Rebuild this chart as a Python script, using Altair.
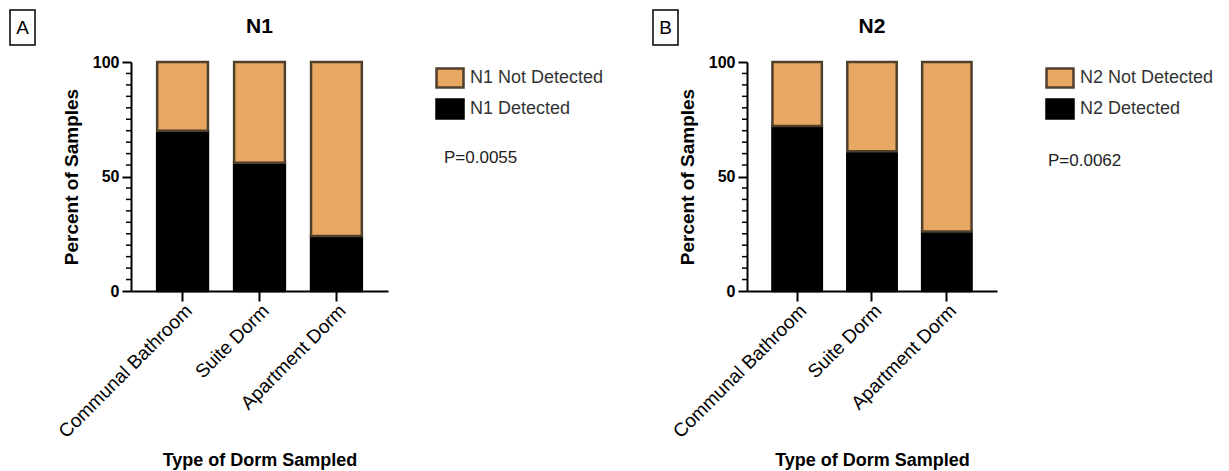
import altair as alt
import pandas as pd

# ---- data ----
categories = ["Communal Bathroom", "Suite Dorm", "Apartment Dorm"]
n1_detected = [70, 56, 24]          # % of samples with N1 detected
n2_detected = [72, 61, 26]          # % of samples with N2 detected
n1_statuses = ["N1 Not Detected", "N1 Detected"]
n2_statuses = ["N2 Not Detected", "N2 Detected"]
p_values = ["P=0.0055", "P=0.0062"]
panel_letters = ["A", "B"]
panel_titles = ["N1", "N2"]
y_major_ticks = [0, 50, 100]
y_minor_ticks = [5, 10, 15, 20, 25, 30, 35, 40, 45, 55, 60, 65, 70, 75, 80, 85, 90, 95]

FILL = ["#E8A762", "#000000"]
STROKE = ["#4F3F2D", "#000000"]
FONT = "Liberation Sans"
H = 229


def panel(title, letter, detected, statuses, pval, width, box_x, legend_x, p_x, p_y):
    rows = []
    for c, d in zip(categories, detected):
        rows.append({"cat": c, "status": statuses[1], "pct": d, "ord": 0})
        rows.append({"cat": c, "status": statuses[0], "pct": 100 - d, "ord": 1})
    df = pd.DataFrame(rows)

    legend = alt.Legend(
        title=None, orient="none", legendX=legend_x, legendY=1, padding=0,
        symbolType="M-1,-0.7L1,-0.7L1,0.7L-1,0.7Z", symbolSize=729,
        symbolStrokeWidth=2.5, labelFont=FONT, labelFontSize=18,
        labelColor="#333333", labelOffset=5, rowPadding=1,
    )
    yscale = alt.Scale(domain=[0, 100], nice=False)
    bars = alt.Chart(df).mark_bar(strokeWidth=2.5).encode(
        x=alt.X(
            "cat:N", sort=categories, title="Type of Dorm Sampled",
            scale=alt.Scale(paddingInner=0.34, paddingOuter=0.34),
            axis=alt.Axis(
                labelAngle=-45, labelFontSize=19, labelPadding=0, labelColor="black",
                labelFont=FONT, tickSize=10, tickWidth=2, tickColor="black",
                domainWidth=2, domainColor="black", titleFontSize=18,
                titleFontWeight="bold", titleFont=FONT, titleColor="black",
                titleY=174, titleBaseline="alphabetic", grid=False,
            ),
        ),
        y=alt.Y(
            "pct:Q", stack="zero", title="Percent of Samples", scale=yscale,
            axis=alt.Axis(
                values=y_major_ticks, grid=False, tickSize=9, tickWidth=2,
                tickColor="black", domainWidth=2, domainColor="black",
                labelFontSize=16, labelFontWeight="bold", labelColor="black",
                labelFont=FONT, labelPadding=3, titleFontSize=19,
                titleFontWeight="bold", titleFont=FONT, titleColor="black",
                titlePadding=11,
            ),
        ),
        fill=alt.Fill("status:N", scale=alt.Scale(domain=statuses, range=FILL), legend=legend),
        stroke=alt.Stroke("status:N", scale=alt.Scale(domain=statuses, range=STROKE), legend=legend),
        order=alt.Order("ord:Q"),
    )

    # minor ticks of the y axis, placed through the shared y scale
    minor = alt.Chart(pd.DataFrame({"v": y_minor_ticks})).mark_rule(
        color="black", strokeWidth=1.5
    ).encode(y=alt.Y("v:Q", scale=yscale), x=alt.value(-5), x2=alt.value(0))

    one = pd.DataFrame({"letter": [letter], "title": [title], "p": [pval]})
    box = alt.Chart(one).mark_rect(fill="transparent", stroke="black", strokeWidth=1.5).encode(
        x=alt.value(box_x), x2=alt.value(box_x + 25), y=alt.value(-52), y2=alt.value(-17)
    )
    letter_txt = alt.Chart(one).mark_text(
        font=FONT, fontSize=19, baseline="middle", align="center", color="black"
    ).encode(x=alt.value(box_x + 12.5), y=alt.value(-34), text="letter:N")
    title_txt = alt.Chart(one).mark_text(
        font=FONT, fontSize=21, fontWeight="bold", baseline="alphabetic", align="center", color="black"
    ).encode(x=alt.value(width / 2), y=alt.value(-29), text="title:N")
    p_txt = alt.Chart(one).mark_text(
        font=FONT, fontSize=17, baseline="alphabetic", align="left", color="#222222"
    ).encode(x=alt.value(p_x), y=alt.value(p_y), text="p:N")

    return alt.layer(bars, minor, box, letter_txt, title_txt, p_txt).properties(width=width, height=H)


pa = panel(panel_titles[0], panel_letters[0], n1_detected, n1_statuses, p_values[0],
           257, -121, 304, 313, 101)
pb = panel(panel_titles[1], panel_letters[1], n2_detected, n2_statuses, p_values[1],
           250, -94, 298, 301, 104)

chart = alt.hconcat(pa, pb, spacing=359, bounds="flush").resolve_scale(
    fill="independent", stroke="independent"
).resolve_legend(fill="independent", stroke="independent").properties(
    padding={"left": 9, "top": 9, "right": 5, "bottom": 5}
).configure(font=FONT, background="white").configure_view(strokeWidth=0, stroke="transparent")

chart.save("out.html", embed_options={"renderer": "svg", "actions": False})
